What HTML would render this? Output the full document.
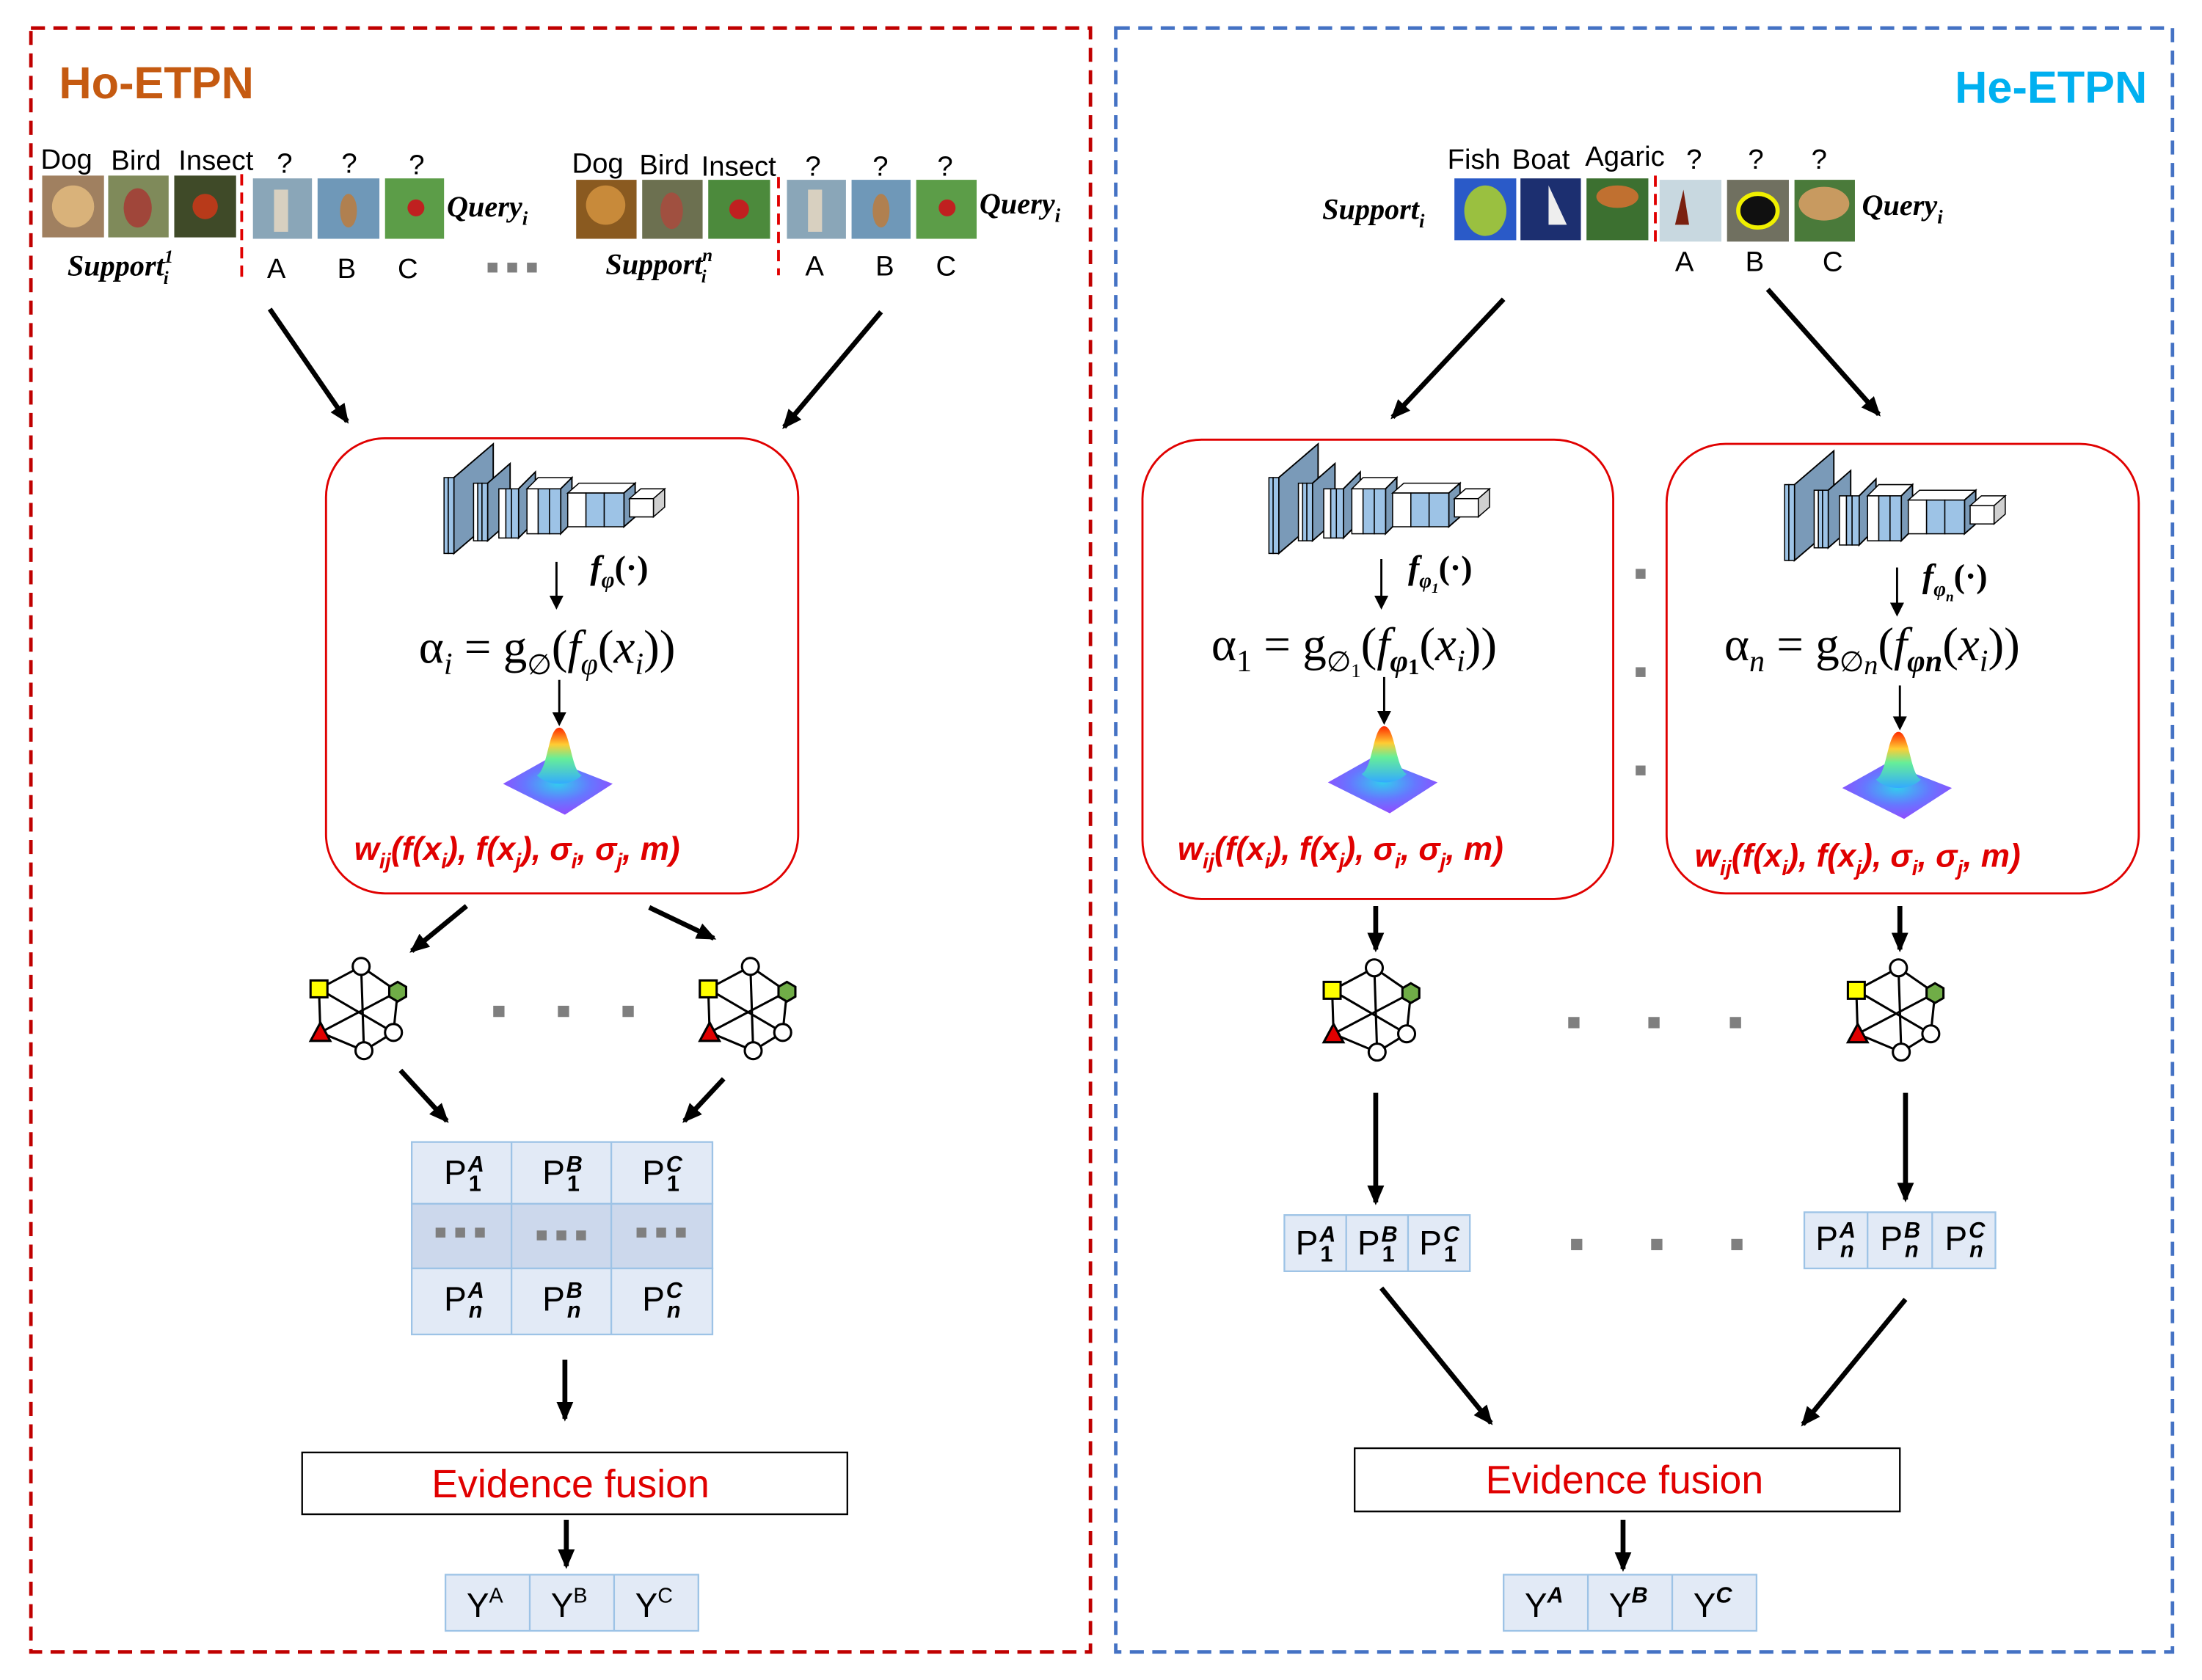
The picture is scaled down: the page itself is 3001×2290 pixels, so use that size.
<!DOCTYPE html>
<html><head><meta charset="utf-8"><style>
html,body{margin:0;padding:0;background:#fff;}
svg{display:block;}
text{font-family:"Liberation Sans",sans-serif;}
.m{font-family:"Liberation Serif",serif;}
.bi{font-family:"Liberation Serif",serif;font-weight:bold;font-style:italic;}
</style></head><body>
<svg width="3001" height="2290" viewBox="0 0 1567 1196" preserveAspectRatio="none" xmlns="http://www.w3.org/2000/svg">
<defs>
<marker id="ah" markerWidth="10" markerHeight="10" refX="8" refY="5" orient="auto" markerUnits="userSpaceOnUse"><path d="M0,0 L10,5 L0,10 Z" fill="#000"/></marker>
<marker id="ah2" markerWidth="14" markerHeight="12" refX="12" refY="6" orient="auto" markerUnits="userSpaceOnUse"><path d="M0,0 L14,6 L0,12 Z" fill="#000"/></marker>
<linearGradient id="peak" x1="0" y1="0" x2="0" y2="1"><stop offset="0" stop-color="#ff2a00"/><stop offset="0.3" stop-color="#ffcc33"/><stop offset="0.55" stop-color="#66ee99"/><stop offset="1" stop-color="#33aaff"/></linearGradient>
<radialGradient id="base" cx="0.5" cy="0.45" r="0.6"><stop offset="0" stop-color="#33ccee"/><stop offset="0.5" stop-color="#6677ff"/><stop offset="1" stop-color="#9944ff"/></radialGradient>
<g id="cnn">
 <polygon points="7,24 35,0 35,54 7,78" fill="#7a9ab8" stroke="#000" stroke-width="1"/>
 <rect x="0" y="24" width="3" height="54" fill="#9dc3e6" stroke="#000" stroke-width="0.8"/>
 <rect x="3" y="24" width="4" height="54" fill="#9dc3e6" stroke="#000" stroke-width="0.8"/>
 <polygon points="31,28 47,14 47,55 31,69" fill="#7a9ab8" stroke="#000" stroke-width="1"/>
 <rect x="21" y="28" width="3" height="41" fill="#fff" stroke="#000" stroke-width="0.8"/>
 <rect x="24" y="28" width="3" height="41" fill="#9dc3e6" stroke="#000" stroke-width="0.8"/>
 <rect x="27" y="28" width="4" height="41" fill="#9dc3e6" stroke="#000" stroke-width="0.8"/>
 <polygon points="53,32 65,20 65,55 53,67" fill="#7a9ab8" stroke="#000" stroke-width="1"/>
 <rect x="39" y="32" width="5" height="35" fill="#fff" stroke="#000" stroke-width="0.8"/>
 <rect x="44" y="32" width="4" height="35" fill="#9dc3e6" stroke="#000" stroke-width="0.8"/>
 <rect x="48" y="32" width="5" height="35" fill="#9dc3e6" stroke="#000" stroke-width="0.8"/>
 <polygon points="59,32 67,24 91,24 83,32" fill="#fff" stroke="#000" stroke-width="0.8"/>
 <polygon points="83,32 91,24 91,56 83,64" fill="#7a9ab8" stroke="#000" stroke-width="1"/>
 <rect x="59" y="32" width="8" height="32" fill="#fff" stroke="#000" stroke-width="0.8"/>
 <rect x="67" y="32" width="8" height="32" fill="#9dc3e6" stroke="#000" stroke-width="0.8"/>
 <rect x="75" y="32" width="8" height="32" fill="#9dc3e6" stroke="#000" stroke-width="0.8"/>
 <polygon points="88,35 96,28 136,28 128,35" fill="#fff" stroke="#000" stroke-width="0.8"/>
 <polygon points="128,35 136,28 136,52 128,59" fill="#7a9ab8" stroke="#000" stroke-width="1"/>
 <rect x="88" y="35" width="13" height="24" fill="#fff" stroke="#000" stroke-width="0.8"/>
 <rect x="101" y="35" width="13" height="24" fill="#9dc3e6" stroke="#000" stroke-width="0.8"/>
 <rect x="114" y="35" width="14" height="24" fill="#9dc3e6" stroke="#000" stroke-width="0.8"/>
 <polygon points="132,39 140,32 157,32 149,39" fill="#fff" stroke="#000" stroke-width="0.8"/>
 <polygon points="149,39 157,32 157,45 149,52" fill="#d0d0d0" stroke="#000" stroke-width="0.8"/>
 <rect x="132" y="39" width="17" height="13" fill="#fff" stroke="#000" stroke-width="0.8"/>
</g>
<g id="gauss">
 <polygon points="-40,40 -8,22 38,40 4,62" fill="url(#base)"/>
 <path d="M-16,34 C-8,30 -8,0 0,0 C8,0 8,30 16,34 C8,42 -8,42 -16,34 Z" fill="url(#peak)"/>
</g>
<g id="graph" stroke="#000" stroke-width="1.6" fill="none">
 <line x1="-28" y1="-11" x2="2" y2="-27"/><line x1="2" y1="-27" x2="28" y2="-9"/>
 <line x1="28" y1="-9" x2="25" y2="20"/><line x1="25" y1="20" x2="4" y2="33"/>
 <line x1="4" y1="33" x2="-27" y2="20"/><line x1="-27" y1="20" x2="-28" y2="-11"/>
 <line x1="-28" y1="-11" x2="25" y2="20"/><line x1="-27" y1="20" x2="28" y2="-9"/>
 <line x1="2" y1="-27" x2="4" y2="33"/>
 <circle cx="2" cy="-27" r="6" fill="#fff"/><circle cx="25" cy="20" r="6" fill="#fff"/><circle cx="4" cy="33" r="6" fill="#fff"/>
 <rect x="-34" y="-17" width="12" height="12" fill="#ffff00"/>
 <polygon points="28,-16 34,-12.5 34,-5.5 28,-2 22,-5.5 22,-12.5" fill="#70ad47"/>
 <polygon points="-27,13 -20,26 -34,26" fill="#e00000"/>
</g>
</defs>

<rect x="22" y="20" width="754" height="1156" fill="none" stroke="#c00000" stroke-width="2.5" stroke-dasharray="10,6"/>
<rect x="794" y="20" width="752" height="1156" fill="none" stroke="#4472c4" stroke-width="2.5" stroke-dasharray="10,6"/>
<text x="42" y="70" font-size="32" font-weight="bold" fill="#c55a11">Ho-ETPN</text>
<text x="1528" y="73" font-size="32" font-weight="bold" fill="#00b0f0" text-anchor="end">He-ETPN</text>

<g font-size="20">
<text x="29" y="120">Dog</text><text x="79" y="121">Bird</text><text x="127" y="121">Insect</text>
<text x="197" y="123">?</text><text x="243" y="123">?</text><text x="291" y="124">?</text>
<text x="407" y="123">Dog</text><text x="455" y="124">Bird</text><text x="499" y="125">Insect</text>
<text x="573" y="125">?</text><text x="621" y="125">?</text><text x="667" y="125">?</text>
<text x="190" y="198">A</text><text x="240" y="198">B</text><text x="283" y="198">C</text>
<text x="573" y="196">A</text><text x="623" y="196">B</text><text x="666" y="196">C</text>
</g>
<rect x="30" y="125" width="44" height="44" fill="#a08060"/><circle cx="52" cy="147" r="15" fill="#d9b27a"/>
<rect x="77" y="125" width="43" height="44" fill="#7f8a5a"/><ellipse cx="98" cy="148" rx="10" ry="14" fill="#a0463a"/>
<rect x="124" y="125" width="44" height="44" fill="#3f4a28"/><circle cx="146" cy="147" r="9" fill="#b83a1a"/>
<line x1="172" y1="124" x2="172" y2="200" stroke="#e00000" stroke-width="2" stroke-dasharray="8,5"/>
<rect x="180" y="127" width="42" height="43" fill="#8aa6b8"/><rect x="195" y="135" width="10" height="30" fill="#d8d0c0"/>
<rect x="226" y="127" width="44" height="43" fill="#6f98b8"/><ellipse cx="248" cy="150" rx="6" ry="12" fill="#b08050"/>
<rect x="274" y="127" width="42" height="43" fill="#5c9d48"/><circle cx="296" cy="148" r="6" fill="#c02020"/>
<rect x="410" y="128" width="43" height="42" fill="#8a5a20"/><circle cx="431" cy="146" r="14" fill="#c88a3a"/>
<rect x="457" y="128" width="43" height="42" fill="#6c7050"/><ellipse cx="478" cy="150" rx="8" ry="13" fill="#a05040"/>
<rect x="504" y="128" width="44" height="42" fill="#4c8a3c"/><circle cx="526" cy="149" r="7" fill="#c02020"/>
<line x1="554" y1="126" x2="554" y2="196" stroke="#e00000" stroke-width="2" stroke-dasharray="8,5"/>
<rect x="560" y="128" width="42" height="42" fill="#8aa6b8"/><rect x="575" y="135" width="10" height="30" fill="#d8d0c0"/>
<rect x="606" y="128" width="42" height="42" fill="#6f98b8"/><ellipse cx="627" cy="150" rx="6" ry="12" fill="#b08050"/>
<rect x="652" y="128" width="43" height="42" fill="#5c9d48"/><circle cx="674" cy="148" r="6" fill="#c02020"/>
<text class="bi" x="318" y="154" font-size="21">Query<tspan font-size="14" dy="6">i</tspan></text>
<text class="bi" x="697" y="152" font-size="21">Query<tspan font-size="14" dy="6">i</tspan></text>
<text class="bi" x="48" y="196" font-size="21">Support<tspan font-size="13" dy="-9">1</tspan><tspan font-size="13" dx="-7" dy="15">i</tspan></text>
<text class="bi" x="431" y="195" font-size="21">Support<tspan font-size="13" dy="-9">n</tspan><tspan font-size="13" dx="-8" dy="15">i</tspan></text>
<g fill="#7f7f7f"><rect x="347" y="187" width="7" height="7"/><rect x="361" y="187" width="7" height="7"/><rect x="375" y="187" width="7" height="7"/></g>

<g font-size="20">
<text x="1030" y="120">Fish</text><text x="1076" y="120">Boat</text><text x="1128" y="118">Agaric</text>
<text x="1200" y="120">?</text><text x="1244" y="120">?</text><text x="1289" y="120">?</text>
<text x="1192" y="193">A</text><text x="1242" y="193">B</text><text x="1297" y="193">C</text>
</g>
<text class="bi" x="941" y="156" font-size="21">Support<tspan font-size="14" dy="6">i</tspan></text>
<text class="bi" x="1325" y="153" font-size="21">Query<tspan font-size="14" dy="6">i</tspan></text>
<rect x="1035" y="127" width="44" height="44" fill="#2a5ac8"/><ellipse cx="1057" cy="150" rx="15" ry="18" fill="#9ac040"/>
<rect x="1082" y="127" width="43" height="44" fill="#1c2f70"/><polygon points="1102,132 1102,160 1115,160" fill="#eee"/>
<rect x="1129" y="127" width="44" height="44" fill="#3c7030"/><ellipse cx="1151" cy="140" rx="15" ry="8" fill="#c07030"/>
<line x1="1178" y1="125" x2="1178" y2="172" stroke="#e00000" stroke-width="2" stroke-dasharray="8,5"/>
<rect x="1181" y="128" width="44" height="44" fill="#c8d8e0"/><polygon points="1198,135 1192,160 1202,160" fill="#7a2010"/>
<rect x="1229" y="128" width="44" height="44" fill="#707060"/><ellipse cx="1251" cy="150" rx="14" ry="12" fill="#101010" stroke="#f0f000" stroke-width="3"/>
<rect x="1277" y="128" width="43" height="44" fill="#4a7a3a"/><ellipse cx="1298" cy="145" rx="18" ry="12" fill="#c89a60"/>

<g stroke="#000" stroke-width="3.5">
<line x1="192" y1="220" x2="247" y2="300" marker-end="url(#ah2)"/>
<line x1="627" y1="222" x2="558" y2="304" marker-end="url(#ah2)"/>
<line x1="1070" y1="213" x2="991" y2="297" marker-end="url(#ah2)"/>
<line x1="1258" y1="206" x2="1337" y2="295" marker-end="url(#ah2)"/>
</g>

<rect x="232" y="312" width="336" height="324" rx="42" fill="none" stroke="#e00000" stroke-width="1.5"/>
<rect x="813" y="313" width="335" height="327" rx="42" fill="none" stroke="#e00000" stroke-width="1.5"/>
<rect x="1186" y="316" width="336" height="320" rx="42" fill="none" stroke="#e00000" stroke-width="1.5"/>

<use href="#cnn" x="316" y="316"/>
<use href="#cnn" x="903" y="316"/>
<use href="#cnn" x="1270" y="321"/>

<g stroke="#000" stroke-width="1.5">
<line x1="396" y1="400" x2="396" y2="432" marker-end="url(#ah)"/>
<line x1="398" y1="484" x2="398" y2="515" marker-end="url(#ah)"/>
<line x1="983" y1="398" x2="983" y2="432" marker-end="url(#ah)"/>
<line x1="985" y1="482" x2="985" y2="514" marker-end="url(#ah)"/>
<line x1="1350" y1="404" x2="1350" y2="437" marker-end="url(#ah)"/>
<line x1="1352" y1="488" x2="1352" y2="518" marker-end="url(#ah)"/>
</g>
<text class="bi" x="420" y="412" font-size="24">f<tspan font-size="16" dy="6">φ</tspan><tspan dy="-6" font-style="normal">(·)</tspan></text>
<text class="bi" x="1002" y="412" font-size="24">f<tspan font-size="15" dy="6">φ</tspan><tspan font-size="10" dy="4">1</tspan><tspan dy="-10" font-style="normal">(·)</tspan></text>
<text class="bi" x="1368" y="418" font-size="24">f<tspan font-size="15" dy="6">φ</tspan><tspan font-size="10" dy="4">n</tspan><tspan dy="-10" font-style="normal">(·)</tspan></text>

<text class="m" x="298" y="472" font-size="34">α<tspan font-size="22" font-style="italic" dy="8">i</tspan><tspan dy="-8"> = g</tspan><tspan font-size="20" dy="8">∅</tspan><tspan dy="-8">(</tspan><tspan font-style="italic">f</tspan><tspan font-size="22" font-style="italic" dy="8">φ</tspan><tspan dy="-8">(</tspan><tspan font-style="italic">x</tspan><tspan font-size="22" font-style="italic" dy="8">i</tspan><tspan dy="-8">))</tspan></text>
<text class="m" x="862" y="470" font-size="34">α<tspan font-size="22" dy="8">1</tspan><tspan dy="-8"> = g</tspan><tspan font-size="20" dy="8">∅</tspan><tspan font-size="14" dy="4">1</tspan><tspan dy="-12">(</tspan><tspan font-style="italic">f</tspan><tspan font-size="22" font-weight="bold" font-style="italic" dy="8">φ</tspan><tspan font-size="16" font-weight="bold" dy="2">1</tspan><tspan dy="-10">(</tspan><tspan font-style="italic">x</tspan><tspan font-size="22" font-style="italic" dy="8">i</tspan><tspan dy="-8">))</tspan></text>
<text class="m" x="1227" y="470" font-size="34">α<tspan font-size="22" font-style="italic" dy="8">n</tspan><tspan dy="-8"> = g</tspan><tspan font-size="20" dy="8">∅</tspan><tspan font-size="20" font-style="italic" dy="2">n</tspan><tspan dy="-10">(</tspan><tspan font-style="italic">f</tspan><tspan font-size="22" font-weight="bold" font-style="italic" dy="8">φn</tspan><tspan dy="-8">(</tspan><tspan font-style="italic">x</tspan><tspan font-size="22" font-style="italic" dy="8">i</tspan><tspan dy="-8">))</tspan></text>

<use href="#gauss" x="398" y="518"/>
<use href="#gauss" x="985" y="517"/>
<use href="#gauss" x="1351" y="521"/>

<g class="bi" fill="#e00000" font-size="23">
<text x="252" y="612">w<tspan font-size="15" dy="6">ij</tspan><tspan dy="-6">(f(x</tspan><tspan font-size="15" dy="6">i</tspan><tspan dy="-6">), f(x</tspan><tspan font-size="15" dy="6">j</tspan><tspan dy="-6">), σ</tspan><tspan font-size="15" dy="6">i</tspan><tspan dy="-6">, σ</tspan><tspan font-size="15" dy="6">j</tspan><tspan dy="-6">, m)</tspan></text>
<text x="838" y="612">w<tspan font-size="15" dy="6">ij</tspan><tspan dy="-6">(f(x</tspan><tspan font-size="15" dy="6">i</tspan><tspan dy="-6">), f(x</tspan><tspan font-size="15" dy="6">j</tspan><tspan dy="-6">), σ</tspan><tspan font-size="15" dy="6">i</tspan><tspan dy="-6">, σ</tspan><tspan font-size="15" dy="6">j</tspan><tspan dy="-6">, m)</tspan></text>
<text x="1206" y="617">w<tspan font-size="15" dy="6">ij</tspan><tspan dy="-6">(f(x</tspan><tspan font-size="15" dy="6">i</tspan><tspan dy="-6">), f(x</tspan><tspan font-size="15" dy="6">j</tspan><tspan dy="-6">), σ</tspan><tspan font-size="15" dy="6">i</tspan><tspan dy="-6">, σ</tspan><tspan font-size="15" dy="6">j</tspan><tspan dy="-6">, m)</tspan></text>
</g>

<g fill="#7f7f7f">
<rect x="1164" y="405" width="7" height="7"/><rect x="1164" y="475" width="7" height="7"/><rect x="1164" y="545" width="7" height="7"/>
<rect x="351" y="716" width="8" height="8"/><rect x="397" y="716" width="8" height="8"/><rect x="443" y="716" width="8" height="8"/>
<rect x="1116" y="724" width="8" height="8"/><rect x="1173" y="724" width="8" height="8"/><rect x="1231" y="724" width="8" height="8"/>
<rect x="1118" y="882" width="8" height="8"/><rect x="1175" y="882" width="8" height="8"/><rect x="1232" y="882" width="8" height="8"/>
</g>

<g stroke="#000" stroke-width="3.5">
<line x1="332" y1="645" x2="293" y2="677" marker-end="url(#ah2)"/>
<line x1="462" y1="646" x2="508" y2="668" marker-end="url(#ah2)"/>
<line x1="979" y1="645" x2="979" y2="676" marker-end="url(#ah2)"/>
<line x1="1352" y1="645" x2="1352" y2="676" marker-end="url(#ah2)"/>
<line x1="285" y1="762" x2="318" y2="798" marker-end="url(#ah2)"/>
<line x1="515" y1="768" x2="487" y2="798" marker-end="url(#ah2)"/>
<line x1="979" y1="778" x2="979" y2="856" marker-end="url(#ah2)"/>
<line x1="1356" y1="778" x2="1356" y2="854" marker-end="url(#ah2)"/>
<line x1="983" y1="917" x2="1061" y2="1013" marker-end="url(#ah2)"/>
<line x1="1356" y1="925" x2="1283" y2="1014" marker-end="url(#ah2)"/>
<line x1="402" y1="968" x2="402" y2="1010" marker-end="url(#ah2)"/>
<line x1="403" y1="1082" x2="403" y2="1115" marker-end="url(#ah2)"/>
<line x1="1155" y1="1082" x2="1155" y2="1117" marker-end="url(#ah2)"/>
</g>

<use href="#graph" x="255" y="715"/>
<use href="#graph" x="532" y="715"/>
<use href="#graph" x="976" y="716"/>
<use href="#graph" x="1349" y="716"/>

<g stroke="#9dc3e6" stroke-width="1.2">
<rect x="293" y="813" width="214" height="44" fill="#e2eaf6"/>
<rect x="293" y="857" width="214" height="46" fill="#ccd8ec"/>
<rect x="293" y="903" width="214" height="47" fill="#e2eaf6"/>
<line x1="364" y1="813" x2="364" y2="950"/><line x1="435" y1="813" x2="435" y2="950"/>
</g>
<g class="m" font-size="24">
<text x="316" y="843">P<tspan font-size="16" font-style="italic" font-weight="bold" dx="1" dy="-9">A</tspan><tspan font-size="16" font-weight="bold" dx="-11" dy="14">1</tspan></text>
<text x="386" y="843">P<tspan font-size="16" font-style="italic" font-weight="bold" dx="1" dy="-9">B</tspan><tspan font-size="16" font-weight="bold" dx="-11" dy="14">1</tspan></text>
<text x="457" y="843">P<tspan font-size="16" font-style="italic" font-weight="bold" dx="1" dy="-9">C</tspan><tspan font-size="16" font-weight="bold" dx="-11" dy="14">1</tspan></text>
<text x="316" y="933">P<tspan font-size="16" font-style="italic" font-weight="bold" dx="1" dy="-9">A</tspan><tspan font-size="16" font-style="italic" font-weight="bold" dx="-11" dy="14">n</tspan></text>
<text x="386" y="933">P<tspan font-size="16" font-style="italic" font-weight="bold" dx="1" dy="-9">B</tspan><tspan font-size="16" font-style="italic" font-weight="bold" dx="-11" dy="14">n</tspan></text>
<text x="457" y="933">P<tspan font-size="16" font-style="italic" font-weight="bold" dx="1" dy="-9">C</tspan><tspan font-size="16" font-style="italic" font-weight="bold" dx="-11" dy="14">n</tspan></text>
</g>
<g fill="#7f7f7f">
<rect x="310" y="874" width="7" height="7"/><rect x="324" y="874" width="7" height="7"/><rect x="338" y="874" width="7" height="7"/>
<rect x="382" y="876" width="7" height="7"/><rect x="396" y="876" width="7" height="7"/><rect x="410" y="876" width="7" height="7"/>
<rect x="453" y="874" width="7" height="7"/><rect x="467" y="874" width="7" height="7"/><rect x="481" y="874" width="7" height="7"/>
</g>

<g stroke="#9dc3e6" stroke-width="1.2" fill="#e2eaf6">
<rect x="914" y="865" width="132" height="40"/><line x1="958" y1="865" x2="958" y2="905"/><line x1="1002" y1="865" x2="1002" y2="905"/>
<rect x="1284" y="863" width="136" height="40"/><line x1="1329" y1="863" x2="1329" y2="903"/><line x1="1375" y1="863" x2="1375" y2="903"/>
</g>
<g class="m" font-size="24">
<text x="922" y="893">P<tspan font-size="16" font-style="italic" font-weight="bold" dx="1" dy="-9">A</tspan><tspan font-size="16" font-weight="bold" dx="-11" dy="14">1</tspan></text>
<text x="966" y="893">P<tspan font-size="16" font-style="italic" font-weight="bold" dx="1" dy="-9">B</tspan><tspan font-size="16" font-weight="bold" dx="-11" dy="14">1</tspan></text>
<text x="1010" y="893">P<tspan font-size="16" font-style="italic" font-weight="bold" dx="1" dy="-9">C</tspan><tspan font-size="16" font-weight="bold" dx="-11" dy="14">1</tspan></text>
<text x="1292" y="890">P<tspan font-size="16" font-style="italic" font-weight="bold" dx="1" dy="-9">A</tspan><tspan font-size="16" font-style="italic" font-weight="bold" dx="-11" dy="14">n</tspan></text>
<text x="1338" y="890">P<tspan font-size="16" font-style="italic" font-weight="bold" dx="1" dy="-9">B</tspan><tspan font-size="16" font-style="italic" font-weight="bold" dx="-11" dy="14">n</tspan></text>
<text x="1384" y="890">P<tspan font-size="16" font-style="italic" font-weight="bold" dx="1" dy="-9">C</tspan><tspan font-size="16" font-style="italic" font-weight="bold" dx="-11" dy="14">n</tspan></text>
</g>

<rect x="215" y="1034" width="388" height="44" fill="#fff" stroke="#000" stroke-width="1.2"/>
<text x="406" y="1066" font-size="28" fill="#e00000" text-anchor="middle">Evidence fusion</text>
<rect x="964" y="1031" width="388" height="45" fill="#fff" stroke="#000" stroke-width="1.2"/>
<text x="1156" y="1063" font-size="28" fill="#e00000" text-anchor="middle">Evidence fusion</text>

<g stroke="#9dc3e6" stroke-width="1.2" fill="#e2eaf6">
<rect x="317" y="1121" width="180" height="40"/><line x1="377" y1="1121" x2="377" y2="1161"/><line x1="437" y1="1121" x2="437" y2="1161"/>
<rect x="1070" y="1121" width="180" height="40"/><line x1="1130" y1="1121" x2="1130" y2="1161"/><line x1="1190" y1="1121" x2="1190" y2="1161"/>
</g>
<g class="m" font-size="24">
<text x="332" y="1151">Y<tspan font-size="15" dy="-10">A</tspan></text>
<text x="392" y="1151">Y<tspan font-size="15" dy="-10">B</tspan></text>
<text x="452" y="1151">Y<tspan font-size="15" dy="-10">C</tspan></text>
<text x="1085" y="1151">Y<tspan font-size="16" font-style="italic" font-weight="bold" dy="-10">A</tspan></text>
<text x="1145" y="1151">Y<tspan font-size="16" font-style="italic" font-weight="bold" dy="-10">B</tspan></text>
<text x="1205" y="1151">Y<tspan font-size="16" font-style="italic" font-weight="bold" dy="-10">C</tspan></text>
</g>
</svg>
</body></html>
